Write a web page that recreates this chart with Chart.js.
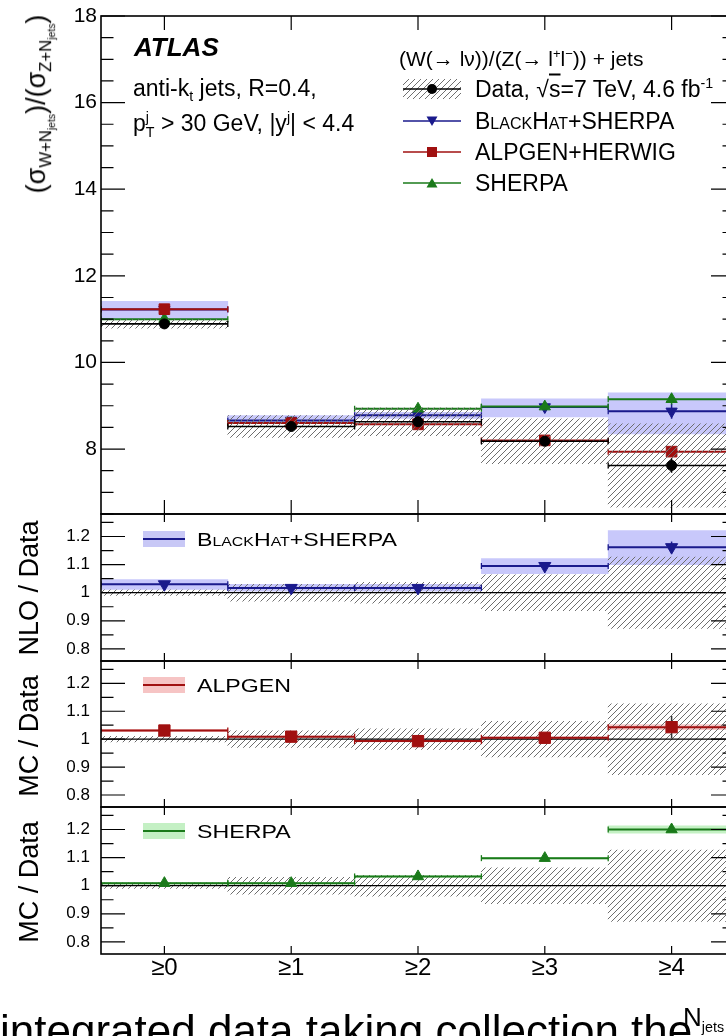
<!DOCTYPE html>
<html>
<head>
<meta charset="utf-8">
<script src="https://cdn.jsdelivr.net/npm/chart.js@4.4.1/dist/chart.umd.min.js"></script>
<style>
  html, body { margin: 0; padding: 0; background: #fff; }
  body { position: relative; width: 726px; height: 1036px; overflow: hidden; font-family: "Liberation Sans", Arial, sans-serif; color: #000; }
  canvas { position: absolute; left: 0; }
  .lbl { position: absolute; white-space: nowrap; line-height: 1; transform: translateY(-50%); }
  .wide { transform-origin: left center; transform: translateY(-50%) scaleX(1.22); }
  .rot { position: absolute; white-space: nowrap; line-height: 1; transform: translate(-50%, -50%) rotate(-90deg); }
  .sc { font-variant: small-caps; }
  sub, sup { line-height: 0; font-size: 62%; }
  svg { position: absolute; overflow: visible; }
</style>
</head>
<body>
<canvas id="pMain" width="760" height="550" style="top:-10px"></canvas>
<canvas id="pNlo" width="760" height="207" style="top:484px"></canvas>
<canvas id="pAlp" width="760" height="206" style="top:631px"></canvas>
<canvas id="pSh" width="760" height="240" style="top:777px"></canvas>

<!-- axis titles -->
<div class="rot" style="left:38px;top:104px;font-size:27px">(σ<sub>W+N<sub>jets</sub></sub>)/(σ<sub>Z+N<sub>jets</sub></sub>)</div>
<div class="rot" style="left:29px;top:588px;font-size:27px">NLO / Data</div>
<div class="rot" style="left:29px;top:736px;font-size:27px">MC / Data</div>
<div class="rot" style="left:29px;top:882px;font-size:27px">MC / Data</div>
<div class="lbl" style="left:683px;top:1017px;font-size:26px">N<sub style="font-size:55%">jets</sub></div>

<!-- ATLAS labels -->
<div class="lbl" style="left:134px;top:47px;font-size:26px;font-weight:bold;font-style:italic">ATLAS</div>
<div class="lbl" style="left:133px;top:88px;font-size:23px">anti-k<sub>t</sub> jets, R=0.4,</div>
<div class="lbl" style="left:133px;top:125px;font-size:23px">p<span style="display:inline-block;vertical-align:middle;font-size:62%;line-height:1.05;text-align:left">j<br>T</span> &gt; 30 GeV, |y<sup>j</sup>| &lt; 4.4</div>

<!-- main legend -->
<div class="lbl" style="left:399px;top:58px;font-size:21px">(W(→ lν))/(Z(→ l<sup>+</sup>l<sup>−</sup>)) + jets</div>
<svg style="left:400px;top:76px" width="66" height="116">
  <defs>
    <pattern id="hatch" width="6" height="6" patternUnits="userSpaceOnUse">
      <path d="M0,6 L6,0 M-1,1 L1,-1 M5,7 L7,5" stroke="#707070" stroke-width="1"/>
    </pattern>
  </defs>
  <rect x="3" y="3" width="58" height="20" fill="url(#hatch)"/>
  <line x1="3" y1="13" x2="61" y2="13" stroke="#000" stroke-width="1.5"/>
  <circle cx="32" cy="13" r="5" fill="#000"/>
  <line x1="3" y1="45" x2="61" y2="45" stroke="#1a1a8c" stroke-width="1.5"/>
  <path d="M26.5,40.5 L37.5,40.5 L32,50 Z" fill="#1a1a8c"/>
  <line x1="3" y1="76" x2="61" y2="76" stroke="#a01010" stroke-width="1.5"/>
  <rect x="27" y="71" width="10" height="10" fill="#a01010"/>
  <line x1="3" y1="107" x2="61" y2="107" stroke="#1a7a1a" stroke-width="1.5"/>
  <path d="M26.5,111.5 L37.5,111.5 L32,102 Z" fill="#1a7a1a"/>
</svg>
<div class="lbl" style="left:475px;top:89px;font-size:23px">Data, √<span style="text-decoration:overline">s</span>=7 TeV, 4.6 fb<sup>-1</sup></div>
<div class="lbl" style="left:475px;top:121px;font-size:23px"><span class="sc">BlackHat</span>+SHERPA</div>
<div class="lbl" style="left:475px;top:152px;font-size:23px">ALPGEN+HERWIG</div>
<div class="lbl" style="left:475px;top:183px;font-size:23px">SHERPA</div>

<!-- ratio legends -->
<svg style="left:143px;top:531px" width="42" height="16">
  <rect x="0" y="0" width="42" height="16" fill="#c8c8f6"/>
  <line x1="0" y1="8" x2="42" y2="8" stroke="#1a1a8c" stroke-width="2"/>
</svg>
<div class="lbl wide" style="left:197px;top:539px;font-size:19px"><span class="sc">BlackHat</span>+SHERPA</div>
<svg style="left:143px;top:677px" width="42" height="16">
  <rect x="0" y="0" width="42" height="16" fill="#f6c4c4"/>
  <line x1="0" y1="8" x2="42" y2="8" stroke="#a01010" stroke-width="2"/>
</svg>
<div class="lbl wide" style="left:197px;top:685px;font-size:19px">ALPGEN</div>
<svg style="left:143px;top:823px" width="42" height="16">
  <rect x="0" y="0" width="42" height="16" fill="#c4f0c4"/>
  <line x1="0" y1="8" x2="42" y2="8" stroke="#1a7a1a" stroke-width="2"/>
</svg>
<div class="lbl wide" style="left:197px;top:831px;font-size:19px">SHERPA</div>

<!-- page text below the figure, cut by the frame -->
<div style="position:absolute;left:0;top:1009px;font-size:44px;line-height:1;white-space:nowrap">integrated data taking collection the</div>

<script>
// jet multiplicity bins
const bins = ['≥0', '≥1', '≥2', '≥3', '≥4'];
const binX = [0, 1, 2, 3, 4];

// main panel: sigma(W+jets)/sigma(Z+jets)
const dataVal  = [10.89, 8.52, 8.63, 8.18, 7.62];
const dataStat = [0.03, 0.03, 0.04, 0.07, 0.17];
const dataLow  = [10.79, 8.27, 8.31, 7.66, 6.66];
const dataHigh = [10.99, 8.77, 8.95, 8.70, 8.58];
const bhVal    = [11.22, 8.66, 8.78, 8.97, 8.87];
const bhLow    = [11.01, 8.62, 8.71, 8.74, 8.35];
const bhHigh   = [11.41, 8.77, 8.85, 9.16, 9.30];
const bhStat   = [0, 0, 0, 0.03, 0.17];
const alpVal   = [11.23, 8.60, 8.57, 8.20, 7.94];
const shVal    = [11.00, 8.60, 8.93, 8.98, 9.15];
const shStat   = [0, 0, 0.05, 0, 0.12];

// ratio panels: prediction / data
const ratioDataLow  = [0.990, 0.970, 0.963, 0.936, 0.873];
const ratioDataHigh = [1.010, 1.030, 1.037, 1.064, 1.127];
const bhRatio     = [1.030, 1.017, 1.017, 1.095, 1.162];
const bhRatioLow  = [1.012, 1.005, 1.005, 1.068, 1.100];
const bhRatioHigh = [1.047, 1.030, 1.030, 1.121, 1.221];
const bhRatioStat = [0, 0, 0, 0, 0.02];
const alpRatio     = [1.031, 1.009, 0.993, 1.005, 1.043];
const alpRatioLow  = [1.027, 1.006, 0.990, 1.002, 1.034];
const alpRatioHigh = [1.035, 1.012, 0.996, 1.008, 1.052];
const alpRatioStat = [0, 0, 0, 0, 0.04];
const shRatio     = [1.009, 1.009, 1.033, 1.098, 1.200];
const shRatioLow  = [1.006, 1.006, 1.030, 1.095, 1.187];
const shRatioHigh = [1.012, 1.012, 1.036, 1.101, 1.213];

const mainTicks  = [8, 10, 12, 14, 16, 18];
const ratioTicks = [0.8, 0.9, 1, 1.1, 1.2];

const BLUE = '#1a1a8c', RED = '#a01010', GREEN = '#1a7a1a';
const FONT = '"Liberation Sans", Arial, sans-serif';

function tickRange(a, b, step) {
    const out = [];
    for (let v = a; v <= b + 1e-9; v += step) out.push(Math.round(v * 1000) / 1000);
    return out;
}

// hatch pattern for the data uncertainty
function makeHatch() {
    const c = document.createElement('canvas');
    c.width = 6; c.height = 6;
    const g = c.getContext('2d');
    g.strokeStyle = '#6e6e6e';
    g.lineWidth = 1;
    g.beginPath();
    g.moveTo(0, 6); g.lineTo(6, 0);
    g.moveTo(-1, 1); g.lineTo(1, -1);
    g.moveTo(5, 7); g.lineTo(7, 5);
    g.stroke();
    return g.createPattern(c, 'repeat');
}
const hatch = makeHatch();

// helpers turning the arrays into points
const steps = vals => vals.flatMap((v, i) => [{x: binX[i] - 0.5, y: v}, {x: binX[i] + 0.5, y: v}, {x: binX[i] + 0.5, y: null}]);
const centres = vals => vals.map((v, i) => ({x: binX[i], y: v}));
const errBars = (vals, errs) => vals.flatMap((v, i) => errs[i] ? [{x: binX[i], y: v - errs[i]}, {x: binX[i], y: v + errs[i]}, {x: binX[i], y: null}] : []);
const band = (lo, hi) => lo.map((l, i) => ({x: binX[i], y: [l, hi[i]]}));

function bandSet(lo, hi, color, order) {
    return { type: 'bar', data: band(lo, hi), backgroundColor: color, borderWidth: 0, borderSkipped: false,
             grouped: false, categoryPercentage: 1, barPercentage: 1, order };
}
function stepSet(vals, color, width, order) {
    return { type: 'line', data: steps(vals), borderColor: color, borderWidth: width, spanGaps: false,
             pointStyle: 'line', pointRotation: 90, pointRadius: 3, pointBorderColor: color, pointBorderWidth: 1.3, order };
}
function markerSet(vals, color, style, radius, rotation, order) {
    return { type: 'line', data: centres(vals), showLine: false, pointStyle: style, pointRadius: radius,
             pointRotation: rotation, pointBackgroundColor: color, pointBorderColor: color, pointBorderWidth: 1, order };
}
function errSet(vals, errs, color, order) {
    return { type: 'line', data: errBars(vals, errs), borderColor: color, borderWidth: 1.5, pointRadius: 0, spanGaps: false, order };
}

// frame with inward ticks, ROOT style
const framePlugin = {
    id: 'frame',
    afterDatasetsDraw(chart, args, o) {
        const {ctx, chartArea: a} = chart;
        const xs = chart.scales.x, ys = chart.scales.y;
        ctx.save();
        ctx.strokeStyle = '#000';
        ctx.lineWidth = 1.2;
        ctx.beginPath();
        binX.forEach(v => {
            const px = xs.getPixelForValue(v);
            ctx.moveTo(px, a.bottom); ctx.lineTo(px, a.bottom - o.xLen);
            ctx.moveTo(px, a.top); ctx.lineTo(px, a.top + o.xLen);
        });
        const tick = (v, len) => {
            const py = ys.getPixelForValue(v);
            ctx.moveTo(a.left, py); ctx.lineTo(a.left + len, py);
            ctx.moveTo(a.right, py); ctx.lineTo(a.right - len, py);
        };
        o.minor.forEach(v => tick(v, o.minLen));
        o.major.forEach(v => tick(v, o.majLen));
        ctx.stroke();
        ctx.lineWidth = 1.6;
        ctx.strokeRect(a.left, a.top, a.right - a.left, a.bottom - a.top);
        ctx.restore();
    }
};

function makePanel(id, datasets, cfg) {
    return new Chart(document.getElementById(id), {
        type: 'line',
        data: { datasets },
        options: {
            responsive: false,
            animation: false,
            events: [],
            layout: { padding: { top: cfg.padTop, bottom: cfg.padBottom, left: 0, right: 25 } },
            plugins: {
                legend: { display: false },
                tooltip: { enabled: false },
                frame: { xLen: cfg.xLen, majLen: 24, minLen: 12.5, major: cfg.yTicks, minor: cfg.minor }
            },
            scales: {
                x: {
                    type: 'linear', min: -0.5, max: 4.5, bounds: 'data', offset: false,
                    display: cfg.showX,
                    grid: { display: false, drawTicks: false, offset: false },
                    border: { display: false },
                    afterBuildTicks: s => { s.ticks = binX.map(v => ({ value: v })); },
                    afterFit: s => { if (cfg.showX) s.height = 40; },
                    ticks: { autoSkip: false, maxRotation: 0, padding: 0, color: '#000',
                             font: { family: FONT, size: 24 }, callback: (v, i) => bins[i] }
                },
                y: {
                    min: cfg.yMin, max: cfg.yMax, bounds: 'data',
                    grid: { display: false, drawTicks: false },
                    border: { display: false },
                    afterBuildTicks: s => { s.ticks = cfg.yTicks.map(v => ({ value: v })); },
                    afterFit: s => { s.width = 101; },
                    ticks: { padding: cfg.tickPad, color: '#000', font: { family: FONT, size: cfg.tickSize },
                             callback: v => (Number.isInteger(v) ? String(v) : v.toFixed(1)) }
                }
            }
        },
        plugins: [framePlugin]
    });
}

// main panel
makePanel('pMain', [
    bandSet(bhLow, bhHigh, 'rgba(190,190,250,0.85)', 20),
    stepSet(bhVal, BLUE, 2, 12),
    markerSet(bhVal, BLUE, 'triangle', 6.5, 180, 11),
    errSet(bhVal, bhStat, BLUE, 11),
    stepSet(shVal, GREEN, 2, 10),
    markerSet(shVal, GREEN, 'triangle', 6.5, 0, 9),
    errSet(shVal, shStat, GREEN, 9),
    stepSet(alpVal, RED, 2, 8),
    markerSet(alpVal, RED, 'rect', 7.5, 0, 7),
    bandSet(dataLow, dataHigh, hatch, 4),
    stepSet(dataVal, '#000', 1.6, 2),
    errSet(dataVal, dataStat, '#000', 2),
    markerSet(dataVal, '#000', 'circle', 5, 0, 1)
], { padTop: 26, padBottom: 26, yMin: 6.5, yMax: 18, yTicks: mainTicks, minor: tickRange(6.5, 18, 0.5),
     tickPad: 4, tickSize: 21, xLen: 14, showX: false });

// ratio panels
const ratioCfg = (padTop, padBottom, showX) => ({
    padTop, padBottom, yMin: 0.757, yMax: 1.28, yTicks: ratioTicks, minor: tickRange(0.85, 1.25, 0.1),
    tickPad: 11, tickSize: 17, xLen: 8, showX
});
const unityLine = () => ({ type: 'line', data: [{x: -0.5, y: 1}, {x: 4.5, y: 1}], borderColor: '#000',
                           borderWidth: 1.3, pointRadius: 0, order: 6 });

makePanel('pNlo', [
    bandSet(bhRatioLow, bhRatioHigh, 'rgba(190,190,250,0.85)', 20),
    bandSet(ratioDataLow, ratioDataHigh, hatch, 10),
    unityLine(),
    stepSet(bhRatio, BLUE, 2, 4),
    errSet(bhRatio, bhRatioStat, BLUE, 3),
    markerSet(bhRatio, BLUE, 'triangle', 7, 180, 2)
], ratioCfg(30, 30, false));

makePanel('pAlp', [
    bandSet(alpRatioLow, alpRatioHigh, 'rgba(246,190,190,0.85)', 20),
    bandSet(ratioDataLow, ratioDataHigh, hatch, 10),
    unityLine(),
    stepSet(alpRatio, RED, 2, 4),
    errSet(alpRatio, alpRatioStat, '#333', 3),
    markerSet(alpRatio, RED, 'rect', 8, 0, 2)
], ratioCfg(30, 30, false));

makePanel('pSh', [
    bandSet(shRatioLow, shRatioHigh, 'rgba(190,240,190,0.9)', 20),
    bandSet(ratioDataLow, ratioDataHigh, hatch, 10),
    unityLine(),
    stepSet(shRatio, GREEN, 2, 4),
    markerSet(shRatio, GREEN, 'triangle', 6.5, 0, 2)
], ratioCfg(30, 23, true));
</script>
</body>
</html>
